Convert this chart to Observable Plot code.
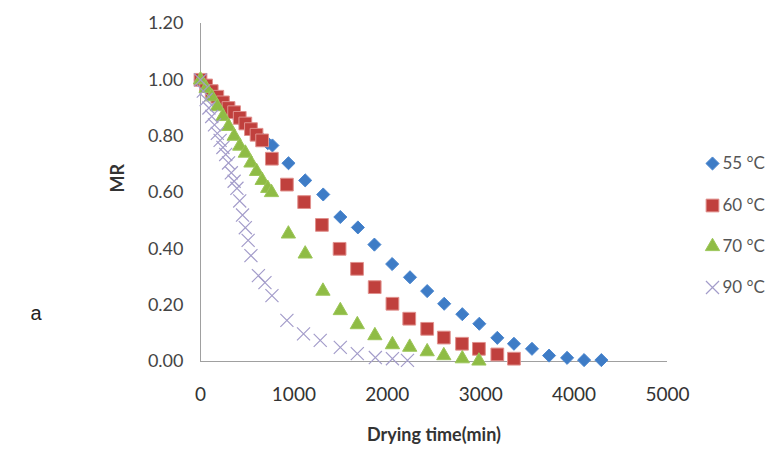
<!DOCTYPE html>
<html><head><meta charset="utf-8">
<script src="https://cdn.jsdelivr.net/npm/d3@7"></script>
<script src="https://cdn.jsdelivr.net/npm/@observablehq/plot@0.6"></script>
<style>body{margin:0;background:#fff;} #chart{width:771px;height:450px;}</style>
</head><body><div id="chart"></div>
<script>
// ---- data ----
const seriesNames = ["55 °C", "60 °C", "70 °C", "90 °C"];

const t55 = [0,60,120,180,240,300,360,420,480,540,600,660,720,770,942,1121,1314,1497,1685,1862,2052,2243,2427,2609,2803,2985,3178,3356,3549,3732,3925,4107,4292];
const mr55 = [1.00,0.98,0.96,0.94,0.92,0.90,0.88,0.86,0.845,0.825,0.805,0.79,0.775,0.767,0.704,0.643,0.593,0.513,0.476,0.415,0.346,0.299,0.250,0.205,0.168,0.134,0.084,0.063,0.045,0.021,0.013,0.005,0.005];

const t60 = [0,60,120,180,240,300,360,420,480,540,600,660,764,925,1110,1300,1489,1676,1865,2055,2235,2427,2605,2800,2981,3178,3356];
const mr60 = [1.00,0.98,0.96,0.94,0.92,0.90,0.885,0.865,0.845,0.825,0.805,0.785,0.720,0.628,0.566,0.485,0.400,0.329,0.264,0.205,0.152,0.116,0.085,0.063,0.045,0.025,0.010];

const t70 = [0,60,120,180,240,300,360,420,480,540,600,660,720,760,941,1121,1311,1497,1679,1867,2055,2240,2427,2605,2803,2981];
const mr70 = [1.00,0.97,0.94,0.905,0.87,0.835,0.80,0.765,0.74,0.705,0.675,0.643,0.615,0.600,0.453,0.382,0.250,0.181,0.131,0.092,0.060,0.051,0.035,0.021,0.010,0.002];

const t90 = [0,30,60,90,120,150,180,210,240,270,300,330,360,390,420,450,480,510,540,620,690,765,925,1103,1282,1497,1679,1872,2055,2216];
const mr90 = [1.00,0.96,0.93,0.90,0.87,0.84,0.81,0.785,0.76,0.735,0.705,0.67,0.64,0.615,0.57,0.52,0.475,0.43,0.376,0.305,0.28,0.234,0.146,0.098,0.075,0.05,0.028,0.014,0.01,0.004];

const xTicks = [0, 1000, 2000, 3000, 4000, 5000];
const yTicks = [0, 0.2, 0.4, 0.6, 0.8, 1.0, 1.2];
const xLabel = "Drying time(min)";
const yLabel = "MR";
const panelLetter = "a";

// ---- build tables ----
const rows = (name, ts, ms) => ts.map((t, i) => ({series: name, t, mr: ms[i]}));
const data = [rows(seriesNames[0], t55, mr55), rows(seriesNames[1], t60, mr60), rows(seriesNames[2], t70, mr70), rows(seriesNames[3], t90, mr90)];

const styles = [
  {symbol: "diamond2", r: 5.9, fill: "#3e7cc6", stroke: "#4a86cf", strokeWidth: 1},
  {symbol: "square", r: 7.2, fill: "#c0403d", stroke: "#e0908d", strokeWidth: 1},
  {symbol: "triangle", r: 5.3, fill: "#8fbc45", stroke: "#9cc659", strokeWidth: 1},
  {symbol: "times", r: 6.0, fill: "none", stroke: "#a39cca", strokeWidth: 1.2}
];

const font = "Lato, 'Open Sans', sans-serif";
const legendDy = [140, 182, 223, 264];

const marks = [
  Plot.ruleX([0], {stroke: "#a0a0a0"}),
  Plot.ruleY([0], {stroke: "#a0a0a0"}),
  Plot.axisY({ticks: yTicks, tickFormat: d => d.toFixed(2), tickSize: 0, tickPadding: 17, fontSize: 18, fill: "#444", label: null}),
  Plot.axisX({ticks: xTicks, tickFormat: d => String(d), tickSize: 0, tickPadding: 26, fontSize: 19, fill: "#333", label: null}),
  Plot.text([yLabel], {frameAnchor: "left", dx: -82, rotate: -90, fontSize: 18, fontWeight: "bold", fill: "#333"}),
  Plot.text([xLabel], {frameAnchor: "bottom", dy: 79, fontSize: 18, fontWeight: "bold", fill: "#333"}),
  Plot.text([panelLetter], {frameAnchor: "left", dx: -170, dy: 121, fontSize: 20, fontFamily: "'Liberation Sans', Arial, sans-serif", fill: "#222"})
];

data.forEach((d, i) => {
  marks.push(Plot.dot(d, {x: "t", y: "mr", ...styles[i]}));
});

seriesNames.forEach((name, i) => {
  marks.push(Plot.dot([name], {frameAnchor: "top-right", dx: 45, dy: legendDy[i], ...styles[i]}));
  marks.push(Plot.text([name], {frameAnchor: "top-right", dx: 55, dy: legendDy[i], textAnchor: "start", lineAnchor: "middle", fontSize: 17, fill: "#555"}));
});

const chart = Plot.plot({
  width: 771, height: 450,
  marginLeft: 200, marginRight: 104, marginTop: 23, marginBottom: 89,
  x: {domain: [0, 5000]},
  y: {domain: [0, 1.2]},
  style: {fontFamily: font, background: "#fff", overflow: "visible"},
  marks
});
document.getElementById("chart").appendChild(chart);
</script>
</body></html>
